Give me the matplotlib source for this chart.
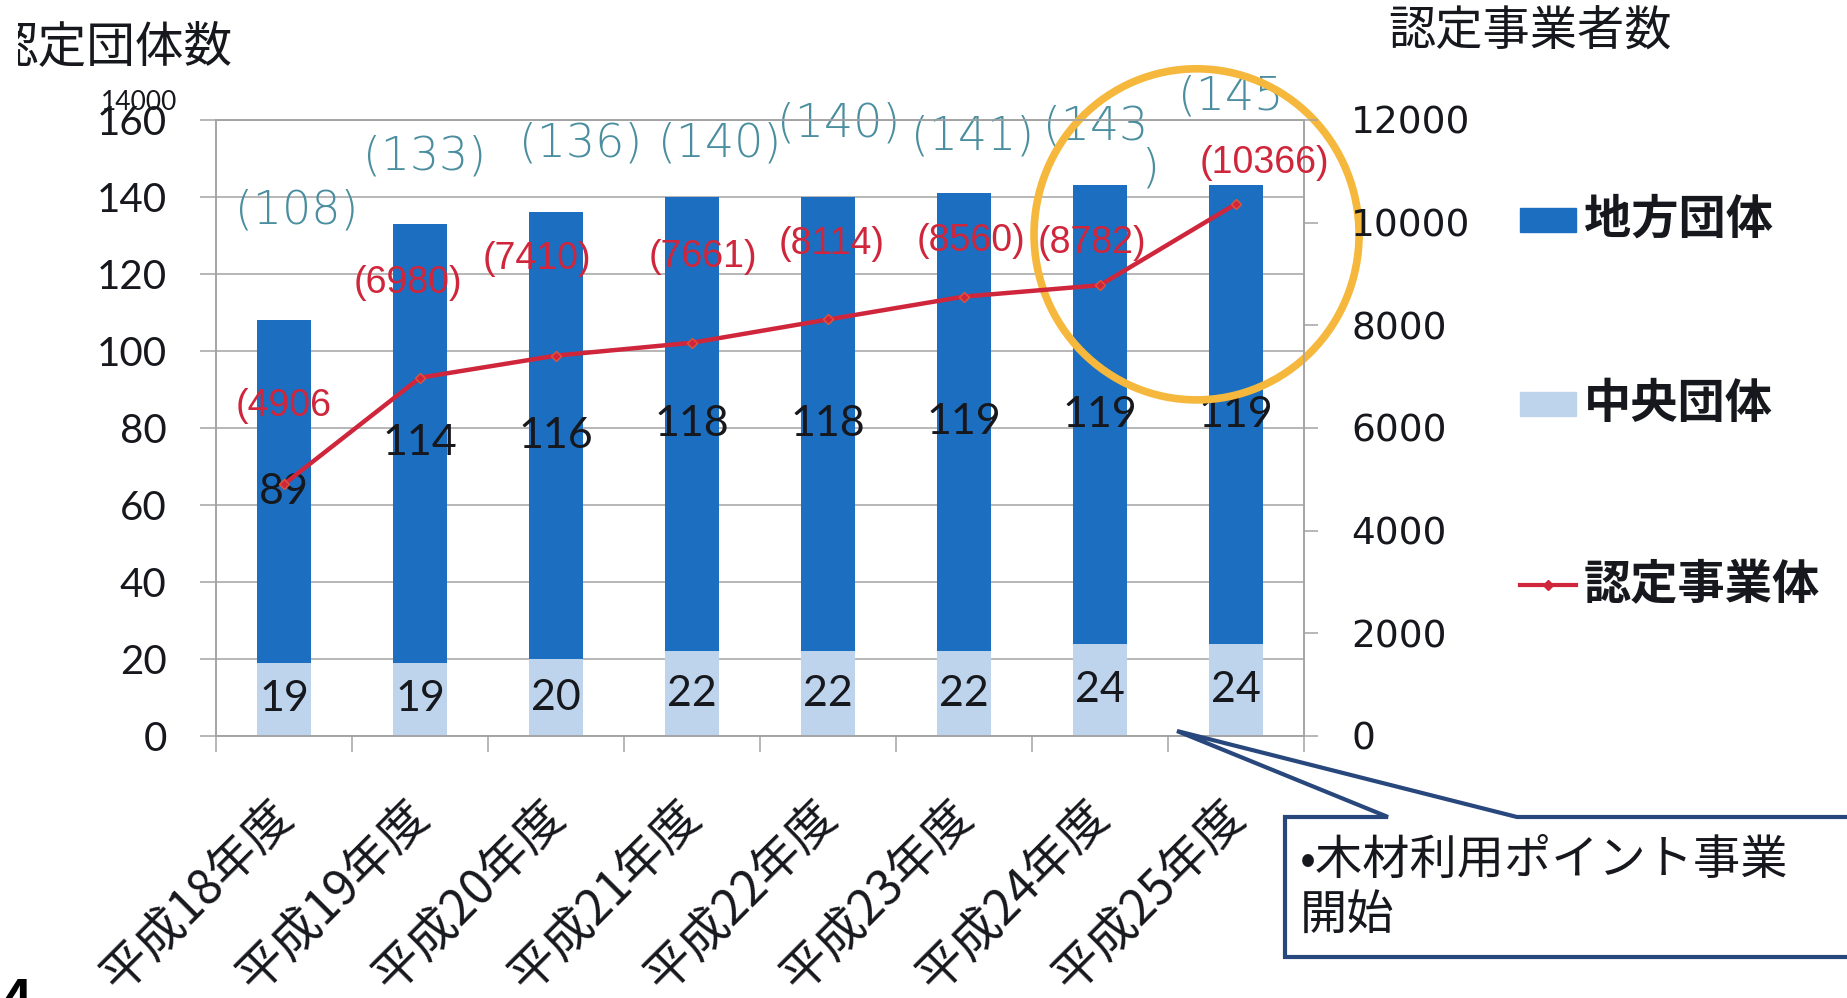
import matplotlib
matplotlib.use("Agg")
import matplotlib.pyplot as plt
from matplotlib.patches import Ellipse, Polygon, Rectangle
from matplotlib.lines import Line2D

plt.rcParams['font.family'] = ['Noto Sans CJK JP', 'DejaVu Sans']

# ---- data -------------------------------------------------------------
fiscal_years = ["平成18年度", "平成19年度", "平成20年度", "平成21年度",
                "平成22年度", "平成23年度", "平成24年度", "平成25年度"]
central_groups = [19, 19, 20, 22, 22, 22, 24, 24]          # 中央団体
local_groups = [89, 114, 116, 118, 118, 119, 119, 119]     # 地方団体
certified_businesses = [4906, 6980, 7410, 7661, 8114, 8560, 8782, 10366]  # 認定事業体
total_labels = ["(108)", "(133)", "(136)", "(140)", "(140)", "(141)", "(143\n)", "(145"]

left_ticks = [0, 20, 40, 60, 80, 100, 120, 140, 160]
right_ticks = [0, 2000, 4000, 6000, 8000, 10000, 12000]

# label placement (category position, axis value)
total_label_pos = [(0.09, 136.6), (1.03, 150.4), (2.18, 154.0), (3.20, 154.0),
                   (4.08, 159.2), (5.06, 155.6), (5.97, 158.2), (6.96, 166.0)]
count_label_pos = [(0.00, 6429), (0.91, 8825), (1.86, 9292), (3.08, 9331),
                   (4.03, 9584), (5.05, 9643), (5.94, 9604), (7.21, 11162)]

count_labels = [f"({v})" for v in certified_businesses]
count_labels[0] = f"({certified_businesses[0]}"   # first one printed without its closing bracket

# ---- styles -----------------------------------------------------------
DARK = "#1c6fc0"
LIGHT = "#bdd4ec"
RED = "#cf263c"
TEAL = "#4a8e9f"
GRID = "#a3a3a3"
NAVY = "#28477c"
GOLD = "#f5b83c"
INK = "#16181d"

W, H = 1847, 998
fig = plt.figure(figsize=(W / 100, H / 100), dpi=100)


def fx(px):
    return px / W


def fy(py):
    return 1 - py / H


ax = fig.add_axes([fx(216), fy(736), fx(1304) - fx(216), fy(120) - fy(736)])
ax2 = ax.twinx()

x = list(range(len(fiscal_years)))

# stacked bars
ax.bar(x, central_groups, width=0.40, color=LIGHT, zorder=2)
ax.bar(x, local_groups, width=0.40, bottom=central_groups, color=DARK, zorder=2)

ax.set_xlim(-0.5, len(x) - 0.5)
ax.set_ylim(0, 160)
ax.set_yticks(left_ticks)
ax.grid(axis='y', color=GRID, linewidth=1.1, zorder=0)
ax.set_axisbelow(True)

for side in ("left", "bottom", "top", "right"):
    ax.spines[side].set_color(GRID)
    ax.spines[side].set_linewidth(1.1)

ax.set_xticks(x)
ax.set_xticklabels([])
ax.tick_params(axis='x', which='major', length=0)
ax.set_xticks([i - 0.5 for i in range(len(x) + 1)], minor=True)
ax.tick_params(axis='x', which='minor', length=11.5, width=1.1, color=GRID, direction='out')
ax.tick_params(axis='y', length=11.5, width=1.1, color=GRID, direction='out', pad=24,
               labelsize=29, labelcolor=INK)
for t in ax.get_yticklabels():
    t.set_fontfamily(['Lato', 'DejaVu Sans'])

# segment value labels
for i, (c, l) in enumerate(zip(central_groups, local_groups)):
    ax.text(i, c / 2, str(c), ha='center', va='center', fontsize=31,
            color=INK, family=['Lato', 'DejaVu Sans'], zorder=4)
    ax.text(i, c + l / 2, str(l), ha='center', va='center', fontsize=31,
            color=INK, family=['Lato', 'DejaVu Sans'], zorder=4)

# totals in brackets
for lab, (px_, py_) in zip(total_labels, total_label_pos):
    first, _, rest = lab.partition("\n")
    t = ax.text(px_, py_, first, ha='center', va='center', fontsize=33, color=TEAL,
                family=['DejaVu Sans'], fontweight='light', clip_on=False, zorder=5)
    if rest:
        ax.annotate(rest, xy=(0.93, 0.05), xycoords=t, ha='left', va='top',
                    fontsize=33, color=TEAL, family=['DejaVu Sans'], fontweight='light',
                    zorder=5, annotation_clip=False)

# certified businesses line on the right axis
ax2.plot(x, certified_businesses, color=RED, linewidth=3.2, marker='D', markersize=5.5,
         markerfacecolor=RED, markeredgecolor="#e0553a", zorder=4)
ax2.set_ylim(0, 12000)
ax2.set_yticks(right_ticks)
ax2.tick_params(axis='y', length=10, width=1.1, color=GRID, direction='out', pad=24,
                labelsize=27, labelcolor=INK)
for t in ax2.get_yticklabels():
    t.set_fontfamily(['DejaVu Sans'])
for side in ("left", "bottom", "top", "right"):
    ax2.spines[side].set_color(GRID)
    ax2.spines[side].set_linewidth(1.1)

for lab, (px_, py_) in zip(count_labels, count_label_pos):
    ax2.text(px_, py_, lab, ha='center', va='center', fontsize=27, color=RED,
             family=['Liberation Sans', 'DejaVu Sans'], clip_on=False, zorder=5)

# rotated category labels
for i, lab in enumerate(fiscal_years):
    ax.annotate(lab, xy=(i, 0), xycoords=('data', 'axes fraction'),
                xytext=(1, -52), textcoords='offset points',
                rotation=45, rotation_mode='anchor', ha='right', va='center',
                fontsize=35, color=INK, annotation_clip=False)

# highlight ring around the last two years
ring = Ellipse((6.71, 130.3), width=2.39, height=86.0, fill=False,
               edgecolor=GOLD, linewidth=5.5, clip_on=False, zorder=6)
ax.add_patch(ring)

# axis titles
left_title = fig.text(fx(232), fy(47), "認定団体数", ha='right', va='center',
                      fontsize=35, color=INK)
left_title.set_clip_path(Rectangle((fx(18), 0), 1, 1, transform=fig.transFigure))
fig.text(fx(1388), fy(32), "認定事業者数", ha='left', va='center', fontsize=34, color=INK)
fig.text(fx(177), fy(102), "14000", ha='right', va='center', fontsize=19, color=INK,
         family=['Lato', 'DejaVu Sans'])

# legend
fig.patches.append(Rectangle((fx(1520), fy(232)), fx(56), 24 / H, color=DARK,
                             transform=fig.transFigure))
fig.patches.append(Rectangle((fx(1520), fy(416)), fx(56), 24 / H, color=LIGHT,
                             transform=fig.transFigure))
fig.lines.append(Line2D([fx(1520), fx(1576)], [fy(585), fy(585)], color=RED, linewidth=3,
                        transform=fig.transFigure))
fig.lines.append(Line2D([fx(1548)], [fy(585)], color=RED, marker='D', markersize=5.5,
                        transform=fig.transFigure))
for ly, name in [(220, "地方団体"), (404, "中央団体"), (585, "認定事業体")]:
    fig.text(fx(1584), fy(ly), name, ha='left', va='center', fontsize=34,
             fontweight='bold', color=INK)

# callout box
callout = [(1285, 817), (1388, 817), (1177, 731), (1517, 817), (1870, 817),
           (1870, 957), (1285, 957)]
fig.patches.append(Polygon([(fx(a), fy(b)) for a, b in callout], closed=True,
                           facecolor='white', edgecolor=NAVY, linewidth=3,
                           transform=fig.transFigure, zorder=10))
fig.text(fx(1300), fy(861), "•木材利用ポイント事業", ha='left', va='center', fontsize=34,
         color=INK, zorder=11)
fig.text(fx(1300), fy(916), "開始", ha='left', va='center', fontsize=34,
         color=INK, zorder=11)

# page number corner
fig.text(fx(3), fy(976), "4", ha='left', va='top', fontsize=36, fontweight='bold', color='black')

fig.savefig("out.png", dpi=100)
